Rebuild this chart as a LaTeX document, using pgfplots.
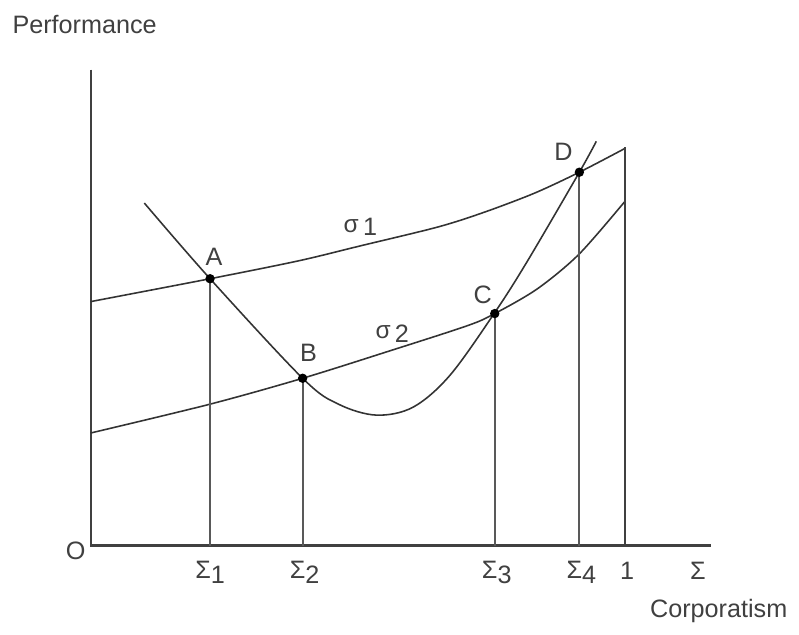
\documentclass[border=0pt]{standalone}
\usepackage{pgfplots}
\pgfplotsset{compat=1.18}
\usepackage{fontspec}
\setmainfont{Liberation Sans}
\begin{document}
\begin{tikzpicture}
\begin{axis}[
  width=7.99cm, height=6.37cm, scale only axis,
  xmin=0, xmax=799, ymin=0, ymax=637, y dir=reverse,
  axis line style={draw=none}, ticks=none, clip=false,
  every axis plot/.append style={line width=0.45pt, color=black!80},
  font=\fontsize{7.2}{8.6}\selectfont,
]
% axes
\addplot[line width=0.6pt, black!75] coordinates {(91,70) (91,548) (714,548)};
% sigma_1
\addplot[smooth, tension=0.5] coordinates {(91,303) (211,280) (300,262) (362,247) (440,228) (487,213) (537,194) (582,173) (628,149)};
% sigma_2
\addplot[smooth, tension=0.5] coordinates {(91,435) (211,406) (304,380) (393,352) (470,327) (497,315) (540,290) (582,255) (628,202)};
% U curve
\addplot[smooth, tension=0.55] coordinates {(145,204) (211,280) (304,380) (340,406) (378,417) (415,409) (452,377) (497,314) (530,262) (582,173) (599,142)};
% verticals
\addplot[line width=0.6pt, black!65] coordinates {(211,548) (211,280)};
\addplot[line width=0.6pt, black!65] coordinates {(304,548) (304,380)};
\addplot[line width=0.6pt, black!65] coordinates {(497,548) (497,315)};
\addplot[line width=0.6pt, black!65] coordinates {(582,548) (582,173)};
\addplot[line width=0.6pt, black!75] coordinates {(628,548) (628,148)};
% points
\addplot[only marks, mark=*, mark size=1.1pt, black] coordinates {(211,280) (304,380) (497,315) (582,173)};
% labels
\node[black!75] at (axis cs:215,258) {A};
\node[black!75] at (axis cs:310,354) {B};
\node[black!75] at (axis cs:485,296) {C};
\node[black!75] at (axis cs:566,153) {D};
\node[black!75] at (axis cs:362,228) {\raisebox{0.25ex}{\scriptsize σ}\,1};
\node[black!75] at (axis cs:394,335) {\raisebox{0.25ex}{\scriptsize σ}\,2};
\node[black!75] at (axis cs:76,553) {O};
\node[black!75] at (axis cs:211,575) {Σ\raisebox{-0.35ex}{1}};
\node[black!75] at (axis cs:306,575) {Σ\raisebox{-0.35ex}{2}};
\node[black!75] at (axis cs:499,575) {Σ\raisebox{-0.35ex}{3}};
\node[black!75] at (axis cs:584,575) {Σ\raisebox{-0.35ex}{4}};
\node[black!75] at (axis cs:630,573) {1};
\node[black!75] at (axis cs:701,573) {Σ};
\node[black!75] at (axis cs:85,25) {Performance};
\node[black!75] at (axis cs:722,614) {Corporatism};
\end{axis}
\end{tikzpicture}
\end{document}
